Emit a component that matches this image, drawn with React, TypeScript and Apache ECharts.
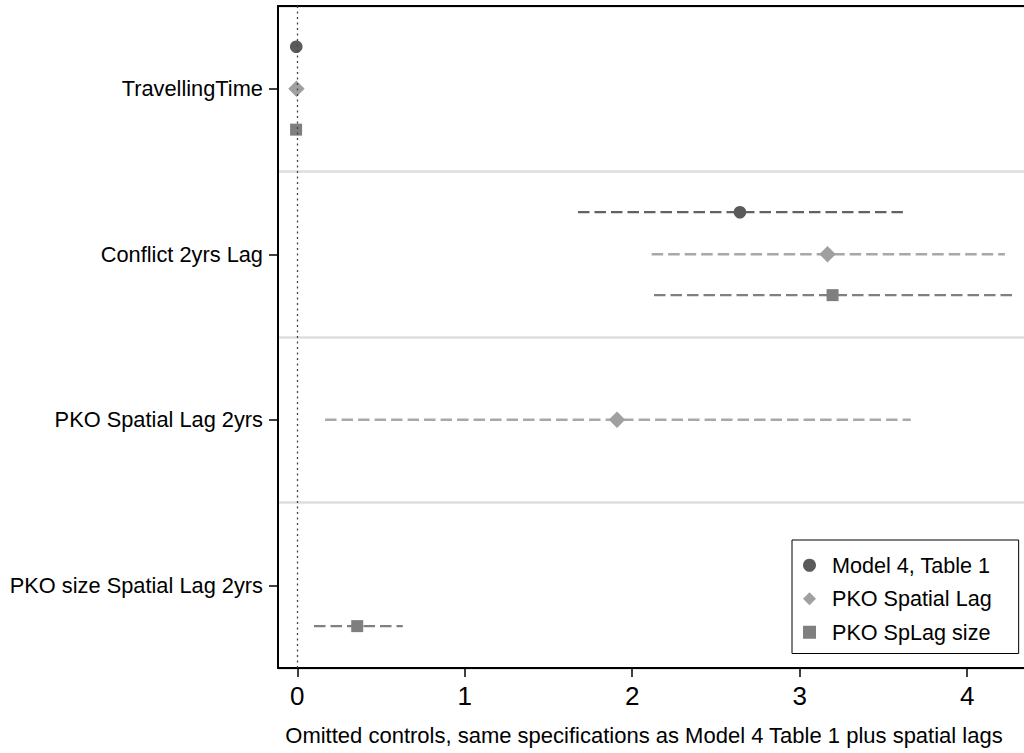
import React, { useEffect, useRef } from 'react';
import * as echarts from 'echarts';

const categories = ['TravellingTime', 'Conflict 2yrs Lag', 'PKO Spatial Lag 2yrs', 'PKO size Spatial Lag 2yrs'];
const seriesNames = ['Model 4, Table 1', 'PKO Spatial Lag', 'PKO SpLag size'];

// point estimates and confidence bounds per category (null = variable not in that model)
const model4Est = [-0.006, 2.643, null, null];
const model4Lo = [-0.01, 1.676, null, null];
const model4Hi = [-0.002, 3.616, null, null];

const spLagEst = [-0.005, 3.166, 1.909, null];
const spLagLo = [-0.009, 2.116, 0.166, null];
const spLagHi = [-0.001, 4.225, 3.663, null];

const spSizeEst = [-0.007, 3.196, null, 0.358];
const spSizeLo = [-0.011, 2.13, null, 0.1];
const spSizeHi = [-0.003, 4.273, null, 0.63];

const xTicks = [0, 1, 2, 3, 4];
const xTitle = 'Omitted controls, same specifications as Model 4 Table 1 plus spatial lags';

const FONT = '"Liberation Sans", Arial, Helvetica, sans-serif';
const markerColors = ['#5a5a5a', '#a0a0a0', '#7f7f7f'];
const lineColors = ['#626262', '#a8a8a8', '#808080'];
const markerKinds = ['circle', 'diamond', 'square'];
const bandOffsets = [-0.254, 0, 0.247];

function buildData(est: (number | null)[], lo: (number | null)[], hi: (number | null)[]) {
  const out: number[][] = [];
  est.forEach((e, i) => {
    if (e !== null && lo[i] !== null && hi[i] !== null) {
      out.push([e, lo[i] as number, hi[i] as number, i]);
    }
  });
  return out;
}

const seriesData = [
  buildData(model4Est, model4Lo, model4Hi),
  buildData(spLagEst, spLagLo, spLagHi),
  buildData(spSizeEst, spSizeLo, spSizeHi),
];

function makeRenderItem(si: number) {
  return (params: any, api: any) => {
    const est = api.value(0);
    const lo = api.value(1);
    const hi = api.value(2);
    const cat = api.value(3);
    const band = api.size([0, 1])[1];
    const c = api.coord([est, cat]);
    const pLo = api.coord([lo, cat]);
    const pHi = api.coord([hi, cat]);
    const y = c[1] + bandOffsets[si] * band;
    const x = c[0];
    const children: any[] = [
      {
        type: 'line',
        shape: { x1: pLo[0], y1: y, x2: pHi[0], y2: y },
        style: { stroke: lineColors[si], lineWidth: 2.3, lineDash: [11.5, 5] },
      },
    ];
    const fill = markerColors[si];
    if (markerKinds[si] === 'circle') {
      children.push({ type: 'circle', shape: { cx: x, cy: y, r: 6.3 }, style: { fill } });
    } else if (markerKinds[si] === 'diamond') {
      const r = 8.2;
      children.push({
        type: 'polygon',
        shape: { points: [[x, y - r], [x + r, y], [x, y + r], [x - r, y]] },
        style: { fill },
      });
    } else {
      const s = 12;
      children.push({ type: 'rect', shape: { x: x - s / 2, y: y - s / 2, width: s, height: s }, style: { fill } });
    }
    return { type: 'group', children };
  };
}

export default function App() {
  const ref = useRef<HTMLDivElement>(null);
  useEffect(() => {
    if (!ref.current) return;
    const chart = echarts.init(ref.current, undefined, { renderer: 'svg' });
    const xMin = -0.115;
    const xMax = 4.339;
    chart.setOption({
      animation: false,
      backgroundColor: '#ffffff',
      textStyle: { fontFamily: FONT },
      grid: { left: 278, right: 0, top: 6, bottom: 85, show: false },
      legend: {
        orient: 'vertical',
        left: 792,
        top: 540,
        padding: [14, 27, 10, 11],
        itemGap: 11,
        itemWidth: 13,
        itemHeight: 13,
        borderColor: '#000',
        borderWidth: 1,
        backgroundColor: '#fff',
        selectedMode: false,
        textStyle: { fontSize: 21.6, color: '#000', fontFamily: FONT, padding: [0, 0, 0, 11], lineHeight: 22.5 },
        data: seriesNames.map((n, i) => ({
          name: n,
          icon: markerKinds[i] === 'square' ? 'rect' : markerKinds[i],
          itemStyle: { color: markerColors[i], borderWidth: 0 },
        })),
      },
      xAxis: [
        {
          type: 'value',
          min: xMin,
          max: xMax,
          position: 'bottom',
          z: 3,
          axisLine: { show: true, onZero: false, lineStyle: { color: '#000', width: 2 } },
          axisTick: { show: true, length: 9, customValues: xTicks, lineStyle: { color: '#000', width: 1.5 } },
          axisLabel: { customValues: xTicks, fontSize: 26, margin: 15, color: '#000', fontFamily: FONT },
          splitLine: { show: false },
          name: xTitle,
          nameLocation: 'middle',
          nameGap: 56,
          nameTextStyle: { fontSize: 22, color: '#000', fontFamily: FONT, padding: [0, 14, 0, 0] },
        },
        {
          type: 'value',
          min: xMin,
          max: xMax,
          position: 'top',
          z: 3,
          axisLine: { show: true, onZero: false, lineStyle: { color: '#000', width: 2 } },
          axisTick: { show: false },
          axisLabel: { show: false },
          splitLine: { show: false },
        },
      ],
      yAxis: {
        type: 'category',
        data: categories,
        inverse: true,
        boundaryGap: true,
        z: 1,
        axisLine: { show: true, onZero: false, lineStyle: { color: '#000', width: 2 } },
        axisTick: { show: true, alignWithLabel: true, length: 9, lineStyle: { color: '#000', width: 1.5 } },
        axisLabel: { fontSize: 21.8, color: '#000', margin: 15, fontFamily: FONT },
        splitLine: { show: true, lineStyle: { color: '#dedede', width: 2.5 } },
      },
      series: [
        {
          name: 'zero',
          type: 'line',
          data: [],
          z: 1,
          markLine: {
            silent: true,
            symbol: ['none', 'none'],
            label: { show: false },
            lineStyle: { color: '#444', type: [2, 3.5], width: 1.3 },
            data: [{ xAxis: 0 }],
          },
        },
        ...seriesNames.map((n, si) => ({
          name: n,
          type: 'custom',
          z: 3,
          xAxisIndex: 0,
          itemStyle: { color: markerColors[si] },
          encode: { x: [0, 1, 2], y: 3 },
          data: seriesData[si],
          renderItem: makeRenderItem(si),
        })),
      ],
    });
    return () => chart.dispose();
  }, []);
  return (
    <div
      ref={ref}
      style={{ position: 'absolute', left: 0, top: 0, width: 1024, height: 753, background: '#fff' }}
    />
  );
}
